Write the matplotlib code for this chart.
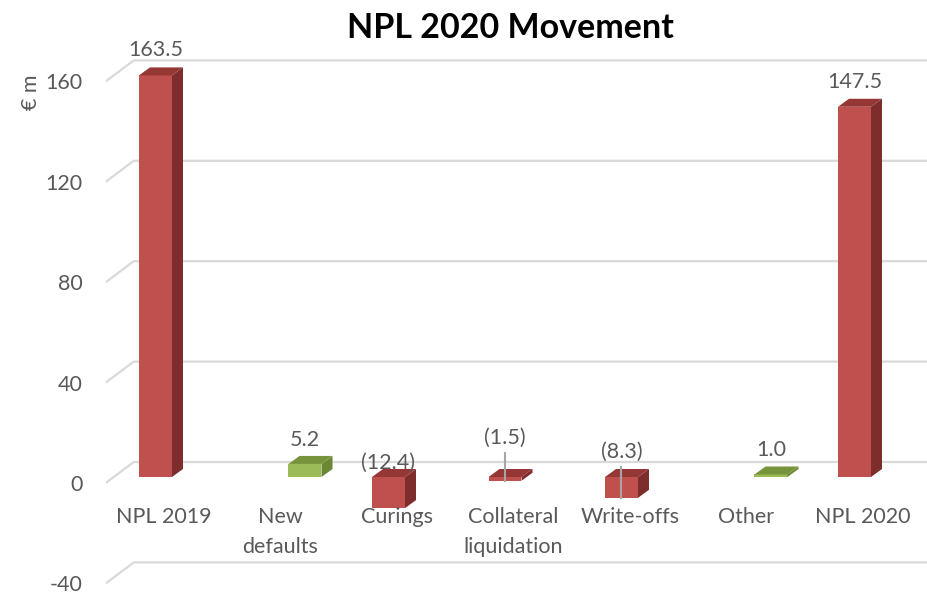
import matplotlib.pyplot as plt
from matplotlib.patches import Polygon

plt.rcParams["font.family"] = ["Lato", "DejaVu Sans"]
plt.rcParams["axes.unicode_minus"] = False

# chart data
categories = ["NPL 2019", "New\ndefaults", "Curings", "Collateral\nliquidation", "Write-offs", "Other", "NPL 2020"]
values = [163.5, 5.2, -12.4, -1.5, -8.3, 1.0, 147.5]
value_labels = ["163.5", "5.2", "(12.4)", "(1.5)", "(8.3)", "1.0", "147.5"]
series = ["total", "increase", "decrease", "decrease", "decrease", "increase", "total"]
y_ticks = [-40, 0, 40, 80, 120, 160]

# label placement (pixels above bar top) and leader lines
label_gap = [25, 24, 14, 39, 25, 24, 25]
leader = [False, False, False, True, True, False, False]

colors = {
    "red": ("#C0504D", "#7D2E2C", "#953735"),
    "green": ("#9BBB59", "#6B8835", "#77933C"),
}
grid_col = "#D9D9D9"
text_col = "#595959"
fs = 15.5

W, H = 928, 594
PX_X = 116.5   # pixels per category
PX_Y = 2.51    # pixels per unit
LEFT_PX = 105.75
ZERO_PX = 483

ymin, ymax = y_ticks[0], y_ticks[-1]

fig = plt.figure(figsize=(W / 100, H / 100), dpi=100)
ax = fig.add_axes([LEFT_PX / W, 0, 1 - LEFT_PX / W, 1])
ax.set_xlim(-0.5, -0.5 + (W - LEFT_PX) / PX_X)
ax.set_ylim(-(H - ZERO_PX) / PX_Y, ZERO_PX / PX_Y)
for s in ax.spines.values():
    s.set_visible(False)
ax.set_xticks([])
ax.set_yticks(y_ticks)
ax.tick_params(axis="y", length=0, pad=16.5, labelsize=fs, labelcolor=text_col)


def dx(p):
    return p / PX_X


def dy(p):
    return p / PX_Y


# gridlines on the back wall
wall_x, wall_y = dx(28), dy(21)
x_right = ax.get_xlim()[1] + 1
for t in y_ticks:
    ax.plot([-0.5, -0.5 + wall_x, x_right], [t, t + wall_y, t + wall_y],
            color=grid_col, lw=1.6, zorder=1, solid_capstyle="butt")

# 3d bars
w = 33 / PX_X
fx, fy = dx(8), dy(6)        # front face depth shift
ddx, ddy = dx(11), dy(8)     # depth of the bar

for i, (v, s) in enumerate(zip(values, series)):
    col = "green" if s == "increase" else "red"
    front, side, top = colors[col]
    xc = i + (w / 2 if s == "increase" else -w / 2)
    vv = min(max(v, ymin), ymax)
    x0, x1 = xc - w / 2 + fx, xc + w / 2 + fx
    ylo, yhi = min(0, vv) + fy, max(0, vv) + fy
    ax.add_patch(Polygon([(x0, ylo), (x1, ylo), (x1, yhi), (x0, yhi)],
                         closed=True, fc=front, ec="none", zorder=3))
    ax.add_patch(Polygon([(x1, ylo), (x1 + ddx, ylo + ddy), (x1 + ddx, yhi + ddy), (x1, yhi)],
                         closed=True, fc=side, ec="none", zorder=3))
    ax.add_patch(Polygon([(x0, yhi), (x1, yhi), (x1 + ddx, yhi + ddy), (x0 + ddx, yhi + ddy)],
                         closed=True, fc=top, ec="none", zorder=3))

    lx = xc + fx
    ly = yhi + dy(label_gap[i])
    ax.text(lx, ly, value_labels[i], ha="center", va="center", fontsize=fs,
            color=text_col, zorder=5)
    if leader[i]:
        ax.plot([lx, lx], [ly - dy(15), ylo], color="#A6A6A6", lw=1.5, zorder=4)

# category labels
for i, c in enumerate(categories):
    ax.text(i, dy(ZERO_PX - 507), c, ha="center", va="top", fontsize=fs,
            color=text_col, linespacing=1.62)

fig.text(31 / W, 1 - 92 / H, "€ m", rotation=90, ha="center", va="center",
         fontsize=fs, color=text_col)
fig.text(510 / W, 1 - 28 / H, "NPL 2020 Movement", ha="center", va="center",
         fontsize=24.5, fontweight="bold", color="black")

fig.savefig("out.png", dpi=100)
